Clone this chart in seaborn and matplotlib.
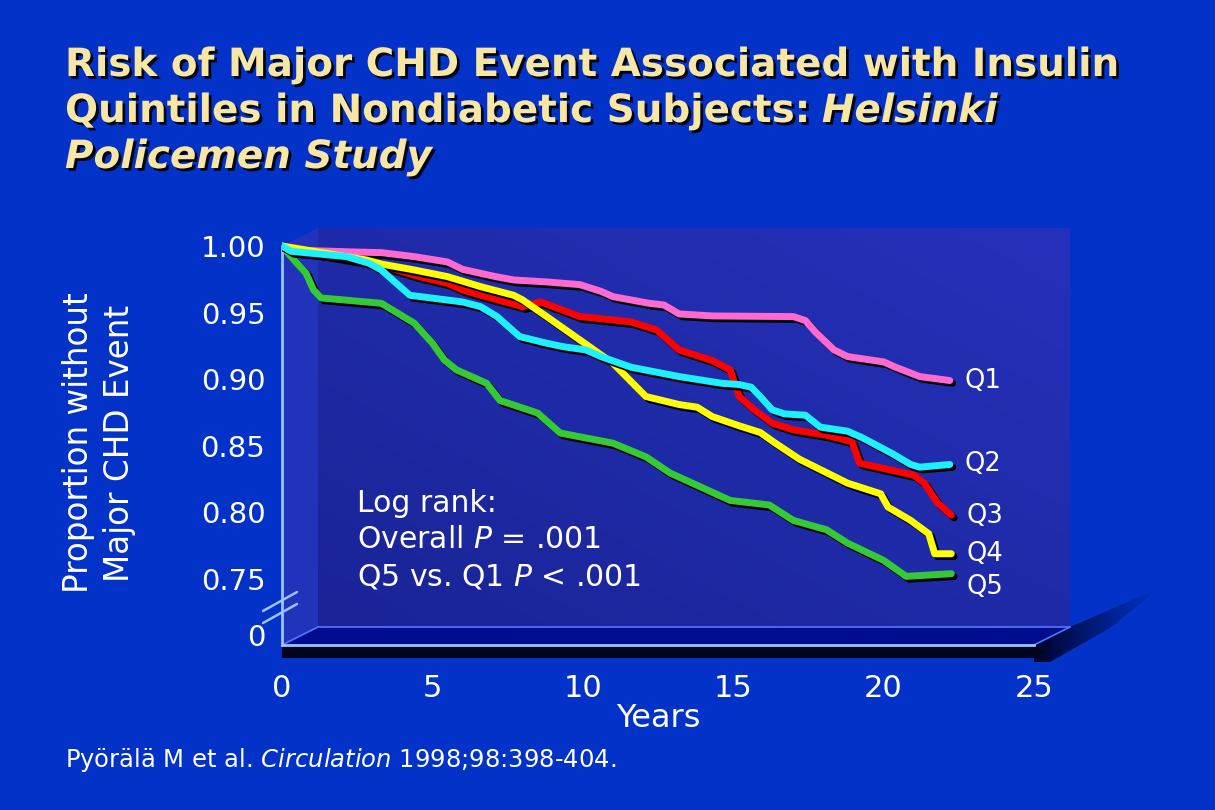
import pandas as pd
import numpy as np
import seaborn as sns
import matplotlib.pyplot as plt
import matplotlib.patheffects as pe
from matplotlib.patches import Polygon
from matplotlib.colors import LinearSegmentedColormap
from matplotlib.transforms import ScaledTranslation

# === Curves (years, proportion without event) ===
quintiles = ["Q1", "Q2", "Q3", "Q4", "Q5"]
q_colors = ["#ff6ad0", "#1ef0ff", "#ff0000", "#ffff00", "#35c935"]

q1_years = [0, 0.3, 2.4, 3.3, 4.4, 5.5, 6.0, 7.1, 7.7, 8.8, 9.9, 10.6, 11.0, 12.2, 12.7, 13.2,
            14.3, 17.0, 17.4, 17.75, 18.35, 18.8, 20.0, 20.4, 21.2, 22.2]
q1_surv = [1.0, 0.997, 0.9955, 0.995, 0.992, 0.988, 0.9825, 0.977, 0.9745, 0.973, 0.971, 0.966,
           0.962, 0.957, 0.9557, 0.949, 0.9475, 0.947, 0.944, 0.935, 0.922, 0.917, 0.913, 0.909,
           0.902, 0.899]

q2_years = [0, 0.3, 2.15, 2.9, 3.3, 4.25, 6.0, 6.6, 7.15, 7.9, 8.8, 9.35, 10.1, 10.6, 11.6,
            13.2, 14.6, 15.2, 15.6, 15.9, 16.3, 16.7, 17.4, 17.9, 18.8, 19.3, 20.3, 20.9, 21.2, 22.2]
q2_surv = [1.0, 0.996, 0.992, 0.987, 0.982, 0.963, 0.958, 0.9545, 0.947, 0.932, 0.927, 0.9244,
           0.922, 0.917, 0.909, 0.902, 0.897, 0.896, 0.894, 0.887, 0.877, 0.874, 0.873, 0.864,
           0.861, 0.856, 0.844, 0.836, 0.834, 0.836]

q3_years = [0, 1.0, 2.8, 3.3, 4.4, 5.5, 6.0, 6.6, 8.0, 8.6, 9.9, 10.5, 11.6, 12.45, 13.2, 14.3,
            14.9, 15.2, 15.7, 16.3, 17.0, 18.1, 18.95, 19.2, 20.0, 21.0, 21.35, 21.8, 22.25]
q3_surv = [1.0, 0.995, 0.988, 0.9857, 0.978, 0.972, 0.967, 0.963, 0.9545, 0.958, 0.947, 0.9457,
           0.943, 0.937, 0.922, 0.914, 0.907, 0.887, 0.877, 0.867, 0.862, 0.858, 0.853, 0.837,
           0.833, 0.828, 0.822, 0.807, 0.798]

q4_years = [0, 2.8, 3.3, 4.4, 5.5, 6.6, 7.7, 8.0, 8.8, 9.9, 11.0, 12.1, 13.2, 13.8, 14.3, 15.2,
            15.9, 16.4, 17.2, 18.8, 19.9, 20.15, 20.9, 21.5, 21.7, 22.25]
q4_surv = [1.0, 0.9895, 0.9865, 0.982, 0.977, 0.9695, 0.963, 0.9595, 0.947, 0.9295, 0.912,
           0.887, 0.881, 0.879, 0.872, 0.865, 0.860, 0.852, 0.840, 0.822, 0.814, 0.804, 0.794,
           0.784, 0.769, 0.769]

q5_years = [0, 0.3, 0.8, 1.05, 1.3, 3.3, 4.4, 5.0, 5.4, 5.8, 6.8, 7.25, 8.5, 9.25, 11.0, 12.1,
            12.9, 14.9, 16.2, 17.0, 18.1, 18.8, 20.0, 20.75, 22.25]
q5_surv = [1.0, 0.992, 0.9795, 0.967, 0.961, 0.957, 0.942, 0.927, 0.9144, 0.907, 0.897, 0.884,
           0.8746, 0.8596, 0.852, 0.8417, 0.8296, 0.809, 0.8056, 0.794, 0.787, 0.777, 0.764,
           0.752, 0.754]

# label nudges so Q4/Q5 don't collide
label_offsets = [0.0, 0.0, -0.001, 0.0, -0.010]

# broken axis: the "0" tick sits just below 0.75
y_zero = 0.7005
ytick_vals = [y_zero, 0.75, 0.80, 0.85, 0.90, 0.95, 1.00]
ytick_labels = ["0", "0.75", "0.80", "0.85", "0.90", "0.95", "1.00"]
xtick_vals = [0, 5, 10, 15, 20, 25]

all_years = [q1_years, q2_years, q3_years, q4_years, q5_years]
all_surv = [q1_surv, q2_surv, q3_surv, q4_surv, q5_surv]
df = pd.concat([pd.DataFrame({"year": yr, "surv": sv, "q": q})
                for yr, sv, q in zip(all_years, all_surv, quintiles)], ignore_index=True)

# === Style ===
bg_color = "#0232c8"
axis_color = "#9cc2ff"
sns.set_style("white")
plt.rcParams["font.family"] = ["DejaVu Sans"]
plt.rcParams["mathtext.fontset"] = "dejavusans"

W, H = 1215, 810
fig = plt.figure(figsize=(W / 100, H / 100), dpi=100, facecolor=bg_color)

# background axes in pixel units for the 3D box decoration
ax_bg = fig.add_axes([0, 0, 1, 1], zorder=0)
ax_bg.set_facecolor(bg_color)

grad = np.linspace(0, 1, 256)
gx, gy = np.meshgrid(grad, grad)
wall_cmap = LinearSegmentedColormap.from_list("wall", ["#1a2496", "#2531bb"])
ax_bg.imshow((gx + (1 - gy)) / 2, extent=(318, 1070, 627, 228), cmap=wall_cmap,
             aspect="auto", origin="upper", zorder=1)
ax_bg.add_patch(Polygon([(282, 246), (318, 228), (318, 627), (282, 645)],
                        closed=True, facecolor="#2233bb", edgecolor="none", zorder=2))

# soft shadow to the right of the floor
shadow_poly = Polygon([(1034, 645), (1070, 627), (1160, 588), (1110, 628), (1050, 662), (1034, 662)],
                      closed=True, facecolor="none", edgecolor="none")
ax_bg.add_patch(shadow_poly)
sx, sy = np.meshgrid(np.linspace(0, 1, 200), np.linspace(0, 1, 120))
# fade away from the floor corner, towards the upper right
fade = np.clip(1 - sx, 0, 1) ** 1.1
shadow_rgba = np.zeros((120, 200, 4))
shadow_rgba[..., 2] = 0.12
shadow_rgba[..., 3] = fade * 0.95
sh_img = ax_bg.imshow(shadow_rgba, extent=(1034, 1160, 662, 588), aspect="auto",
                      origin="upper", interpolation="bilinear", zorder=2)
sh_img.set_clip_path(shadow_poly)

# floor top face and front face
ax_bg.add_patch(Polygon([(282, 645), (1034, 645), (1070, 627), (318, 627)],
                        closed=True, facecolor="#000c8e", edgecolor="none", zorder=3))
ax_bg.add_patch(Polygon([(282, 645), (1034, 645), (1046, 652), (1034, 658), (282, 658)],
                        closed=True, facecolor="#00051f", edgecolor="none", zorder=3))
for seg in [[(318, 627), (1070, 627)], [(282, 645), (318, 627)], [(1034, 645), (1070, 627)]]:
    xs, ys = zip(*seg)
    ax_bg.plot(xs, ys, color="#4f78ff", lw=1.2, zorder=4)
# axis break marks
for dy in [0, 12]:
    ax_bg.plot([263, 297], [611 + dy, 592 + dy], color=axis_color, lw=1.8, zorder=5)
ax_bg.set_xlim(0, W)
ax_bg.set_ylim(H, 0)
ax_bg.axis("off")

# === Main plot ===
ax = fig.add_axes([282 / W, 1 - 645 / H, 752 / W, 417 / H], zorder=1)
ax.patch.set_alpha(0)
sns.lineplot(data=df, x="year", y="surv", hue="q", hue_order=quintiles, palette=q_colors,
             estimator=None, sort=False, linewidth=5, legend=False, ax=ax)
shadow = [pe.SimpleLineShadow(offset=(2, -2), shadow_color="black", alpha=1, rho=1), pe.Normal()]
for line, z in zip(ax.lines, [2, 5, 3, 4, 1]):
    line.set_path_effects(shadow)
    line.set_solid_capstyle("round")
    line.set_solid_joinstyle("round")
    line.set_zorder(z)

ax.set_xlim(0, 25)
ax.set_ylim(y_zero, 1.0135)
ax.set_xticks(xtick_vals)
ax.set_yticks(ytick_vals, labels=ytick_labels)
ax.tick_params(axis="y", colors=axis_color, labelcolor="white", length=7, width=2,
               labelsize=21, pad=5)
ax.tick_params(axis="x", colors=axis_color, labelcolor="white", length=18, width=2,
               labelsize=22, pad=3)
lbl0 = ax.get_yticklabels()[0]
lbl0.set_transform(lbl0.get_transform() + ScaledTranslation(0, 7 / 72, fig.dpi_scale_trans))
for side in ["top", "right"]:
    ax.spines[side].set_visible(False)
for side in ["left", "bottom"]:
    ax.spines[side].set_color(axis_color)
    ax.spines[side].set_linewidth(2)
ax.spines["left"].set_bounds(y_zero, 1.0)
ax.set_xlabel("Years", color="white", fontsize=23, labelpad=0)
ax.set_ylabel("")

for yr, sv, q, off in zip(all_years, all_surv, quintiles, label_offsets):
    ax.text(yr[-1] + 0.5, sv[-1] + off, q, color="white", fontsize=18.5, va="center", ha="left")

# log-rank note
note = ["Log rank:", r"Overall $\mathit{P}$ = .001", r"Q5 vs. Q1 $\mathit{P}$ < .001"]
for i, s in enumerate(note):
    ax_bg.text(357, 503 + 37 * i, s, color="white", fontsize=21.5, va="center", ha="left", zorder=6)

fig.text(99 / W, 1 - 443 / H, "Proportion without\nMajor CHD Event", rotation=90,
         color="white", fontsize=23.5, ha="center", va="center", multialignment="center",
         linespacing=1.3)

# === Title ===
title_kw = dict(color="#f8e6a4", fontsize=28, fontweight="bold", va="baseline", ha="left",
                path_effects=[pe.SimplePatchShadow(offset=(2, -2), shadow_rgbFace="black", alpha=0.9),
                              pe.Normal()])
fig.text(65 / W, 1 - 76 / H, "Risk of Major CHD Event Associated with Insulin", **title_kw)
t2 = fig.text(65 / W, 1 - 122 / H, "Quintiles in Nondiabetic Subjects:", **title_kw)
fig.text(65 / W, 1 - 168 / H, "Policemen Study", style="italic", **title_kw)
renderer = fig.canvas.get_renderer()
bb = t2.get_window_extent(renderer)
fig.text(bb.x1 / W + 13 / W, 1 - 122 / H, "Helsinki", style="italic", **title_kw)

fig.text(65 / W, 1 - 767 / H, r"Pyörälä M et al. $\mathit{Circulation}$ 1998;98:398-404.",
         color="white", fontsize=17.5, va="baseline", ha="left")

fig.savefig("out.png", dpi=100, facecolor=bg_color)
